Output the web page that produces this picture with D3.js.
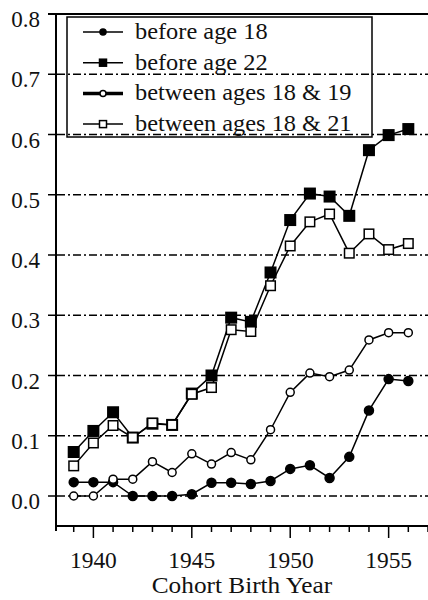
<!DOCTYPE html>
<html>
  <head>
    <title>Cohort Birth Year</title>
    <script src="https://d3js.org/d3.v7.min.js"></script>
    <style>
      body { margin: 0; background: #fff; font-family: "Liberation Serif"; }
      svg text { font-family: "Liberation Serif"; }
    </style>
  </head>
  <body>
    <svg id="chart" width="428" height="600"></svg>
    <script>
      // data
      let years = [1939, 1940, 1941, 1942, 1943, 1944, 1945, 1946, 1947, 1948,
                   1949, 1950, 1951, 1952, 1953, 1954, 1955, 1956];
      let before18 = [0.023, 0.023, 0.023, 0.0, 0.0, 0.0, 0.003, 0.022, 0.022, 0.020,
                      0.025, 0.045, 0.051, 0.030, 0.065, 0.142, 0.194, 0.191];
      let before22 = [0.073, 0.108, 0.139, 0.097, 0.120, 0.118, 0.170, 0.200, 0.296, 0.289,
                      0.371, 0.458, 0.502, 0.497, 0.465, 0.574, 0.599, 0.609];
      let between1819 = [0.0, 0.0, 0.028, 0.028, 0.057, 0.039, 0.070, 0.053, 0.072, 0.060,
                         0.110, 0.172, 0.204, 0.198, 0.209, 0.259, 0.271, 0.271];
      let between1821 = [0.050, 0.088, 0.117, 0.097, 0.121, 0.118, 0.169, 0.180, 0.276, 0.273,
                         0.349, 0.415, 0.455, 0.468, 0.403, 0.435, 0.409, 0.419];
      let yTicks = [0.0, 0.1, 0.2, 0.3, 0.4, 0.5, 0.6, 0.7, 0.8];
      let xLabels = [1940, 1945, 1950, 1955];
      let legendLabels = ["before age 18", "before age 22", "between ages 18 & 19", "between ages 18 & 21"];

      let svg = d3.select("#chart");
      let font = "Liberation Serif";
      let fontSize = 23;

      let x = d3.scaleLinear().domain([1938.1, 1957]).range([56, 428]);
      let y = d3.scaleLinear().domain([0, 0.8]).range([496, 14]);
      let yBottom = 526;

      // text helper, slightly widened like the original
      function label(px, py, str, anchor, sx) {
        return svg.append("text")
          .attr("transform", `translate(${px},${py}) scale(${sx},1)`)
          .attr("text-anchor", anchor)
          .attr("font-family", font)
          .attr("font-size", fontSize)
          .attr("fill", "#111")
          .text(str);
      }

      // dash-dot grid lines
      svg.selectAll(".grid")
        .data(yTicks.filter((d) => d < 0.8))
        .enter()
        .append("line")
        .attr("x1", 57)
        .attr("x2", 428)
        .attr("y1", (d) => y(d))
        .attr("y2", (d) => y(d))
        .style("stroke", "#000")
        .style("stroke-width", 1.5)
        .style("stroke-dasharray", "8,3,2,3");

      // top frame line
      svg.append("line")
        .attr("x1", 48).attr("x2", 428)
        .attr("y1", y(0.8)).attr("y2", y(0.8))
        .style("stroke", "#000").style("stroke-width", 2);

      // y axis
      svg.append("line")
        .attr("x1", 56).attr("x2", 56)
        .attr("y1", y(0.8)).attr("y2", 531)
        .style("stroke", "#000").style("stroke-width", 2);

      svg.selectAll(".ytick")
        .data(yTicks)
        .enter()
        .append("line")
        .attr("x1", 48).attr("x2", 56)
        .attr("y1", (d) => y(d)).attr("y2", (d) => y(d))
        .style("stroke", "#000").style("stroke-width", 1.5);

      yTicks.forEach((d) => label(40, y(d) + 13, d3.format(".1f")(d), "end", 1.0));

      // x axis
      svg.append("line")
        .attr("x1", 55).attr("x2", 428)
        .attr("y1", yBottom).attr("y2", yBottom)
        .style("stroke", "#000").style("stroke-width", 2);

      let tickYears = d3.range(1939, 1958);
      svg.selectAll(".xtick")
        .data(tickYears)
        .enter()
        .append("line")
        .attr("x1", (d) => x(d)).attr("x2", (d) => x(d))
        .attr("y1", yBottom)
        .attr("y2", (d) => (d % 5 === 0 ? yBottom + 12 : yBottom + 6))
        .style("stroke", "#000").style("stroke-width", 1.5);

      xLabels.forEach((d) => label(x(d), 568, d, "middle", 1.02));
      label(242, 593, "Cohort Birth Year", "middle", 1.1);

      // series
      let series = [
        { values: before18, shape: "circle", fill: "#000", size: 4.5, legendWidth: 1.5 },
        { values: before22, shape: "square", fill: "#000", size: 10.5, legendWidth: 1.5 },
        { values: between1819, shape: "circle", fill: "#fff", size: 4, legendWidth: 3.5 },
        { values: between1821, shape: "square", fill: "#fff", size: 9.5, legendWidth: 1.5 },
      ];

      let line = d3.line()
        .x((d, i) => x(years[i]))
        .y((d) => y(d));

      function drawMarker(g, shape, fill, size, cx, cy) {
        if (shape === "circle") {
          g.append("circle")
            .attr("cx", cx).attr("cy", cy).attr("r", size)
            .style("fill", fill).style("stroke", "#000").style("stroke-width", 1.5);
        } else {
          g.append("rect")
            .attr("x", cx - size / 2).attr("y", cy - size / 2)
            .attr("width", size).attr("height", size)
            .style("fill", fill).style("stroke", "#000").style("stroke-width", 1.5);
        }
      }

      series.forEach((s) => {
        let g = svg.append("g");
        g.append("path")
          .attr("d", line(s.values))
          .style("fill", "none")
          .style("stroke", "#000")
          .style("stroke-width", 1.5);
        s.values.forEach((v, i) => drawMarker(g, s.shape, s.fill, s.size, x(years[i]), y(v)));
      });

      // legend
      svg.append("rect")
        .attr("x", 67).attr("y", 17)
        .attr("width", 305).attr("height", 120)
        .style("fill", "none")
        .style("stroke", "#000")
        .style("stroke-width", 1.5);

      series.forEach((s, i) => {
        let ly = 32 + i * 30.7;
        let g = svg.append("g");
        g.append("line")
          .attr("x1", 83).attr("x2", 123)
          .attr("y1", ly).attr("y2", ly)
          .style("stroke", "#000").style("stroke-width", s.legendWidth);
        let sz = s.shape === "circle" ? 3 : 7;
        drawMarker(g, s.shape, s.fill, sz, 103, ly);
        label(135, ly + 7, legendLabels[i], "start", 1.06);
      });
    </script>
  </body>
</html>
